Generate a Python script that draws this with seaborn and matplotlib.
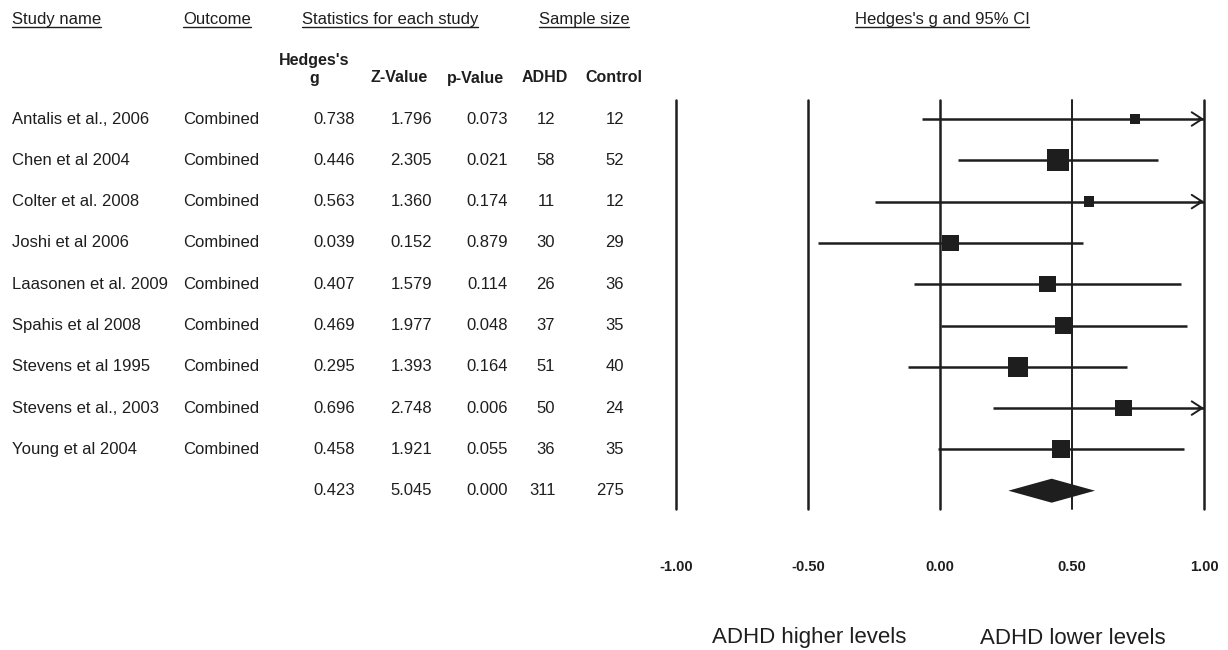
import matplotlib
matplotlib.use("Agg")
import matplotlib.pyplot as plt
import seaborn as sns
import pandas as pd
from matplotlib.lines import Line2D
from matplotlib.transforms import blended_transform_factory, IdentityTransform

# ---------------- data ----------------
studies = ["Antalis et al., 2006", "Chen et al 2004", "Colter et al. 2008",
           "Joshi et al 2006", "Laasonen et al. 2009", "Spahis et al 2008",
           "Stevens et al 1995", "Stevens et al., 2003", "Young et al 2004"]
outcome = ["Combined"] * 9
hedges_g = [0.738, 0.446, 0.563, 0.039, 0.407, 0.469, 0.295, 0.696, 0.458]
z_value = [1.796, 2.305, 1.360, 0.152, 1.579, 1.977, 1.393, 2.748, 1.921]
p_value = [0.073, 0.021, 0.174, 0.879, 0.114, 0.048, 0.164, 0.006, 0.055]
n_adhd = [12, 58, 11, 30, 26, 37, 51, 50, 36]
n_control = [12, 52, 12, 29, 36, 35, 40, 24, 35]
ci_lower = [-0.067, 0.067, -0.248, -0.464, -0.098, 0.004, -0.120, 0.200, -0.009]
ci_upper = [1.543, 0.825, 1.374, 0.542, 0.912, 0.934, 0.710, 1.192, 0.925]
rel_weight = [4.2, 18.8, 4.1, 10.7, 10.6, 12.5, 15.7, 11.0, 12.4]

summary_g = 0.423
summary_z = 5.045
summary_p = 0.000
summary_adhd = 311
summary_control = 275
summary_lower = 0.259
summary_upper = 0.587

x_ticks = [-1.0, -0.5, 0.0, 0.5, 1.0]
x_tick_labels = ["-1.00", "-0.50", "0.00", "0.50", "1.00"]
left_label = "ADHD higher levels"
right_label = "ADHD lower levels"

# ---------------- figure ----------------
sns.set_style("white")
plt.rcParams["font.family"] = ["Liberation Sans", "DejaVu Sans"]
W, H = 1228, 650
fig = plt.figure(figsize=(W / 100, H / 100), dpi=100)

row0_px, step_px = 119.0, 41.3
ax_top_px, ax_bot_px = 100.0, 509.0
x_left_px, x_right_px = 676.0, 1204.0
ax = fig.add_axes([x_left_px / W, 1 - ax_bot_px / H,
                   (x_right_px - x_left_px) / W, (ax_bot_px - ax_top_px) / H])
ax.set_xlim(-1, 1)
ax.set_ylim((ax_bot_px - row0_px) / step_px, (ax_top_px - row0_px) / step_px)

ink = "#1e1e1e"
for xv in x_ticks:
    ax.axvline(xv, color=ink, lw=1.8 if xv != 0.5 else 1.4, zorder=1,
               clip_on=False)

df = pd.DataFrame({"study": studies, "g": hedges_g, "lo": ci_lower,
                   "hi": ci_upper, "w": rel_weight})
df["row"] = range(len(df))

# CI lines (clipped at axis limit) and open arrowheads where CI exceeds range
for _, r in df.iterrows():
    hi = min(r["hi"], 1.0)
    ax.hlines(r["row"], r["lo"], hi, color=ink, lw=1.8, zorder=2)
    if r["hi"] > 1.0:
        ax.annotate("", xy=(1.0, r["row"]), xytext=(0.98, r["row"]),
                    arrowprops=dict(arrowstyle="->,head_length=0.42,head_width=0.27",
                                    color=ink, lw=1.4,
                                    mutation_scale=18, shrinkA=0, shrinkB=0),
                    zorder=3, annotation_clip=False)

k = 13.3
sns.scatterplot(data=df, x="g", y="row", size="w",
                sizes=(k * min(rel_weight), k * max(rel_weight)),
                marker="s", color=ink, edgecolor="none", legend=False,
                ax=ax, zorder=4)

# summary diamond
srow = len(studies)
hh = 12 / step_px
ax.fill([summary_lower, summary_g, summary_upper, summary_g],
        [srow, srow - hh, srow, srow + hh], color=ink, lw=0, zorder=4)

ax.set_xticks(x_ticks)
ax.set_xticklabels(x_tick_labels, fontsize=10.5, fontweight="bold", color=ink)
ax.tick_params(axis="x", length=0, pad=37)
ax.set_yticks([])
ax.set_xlabel("")
ax.set_ylabel("")
sns.despine(ax=ax, left=True, bottom=True)

# ---------------- table text ----------------
tr = blended_transform_factory(fig.transFigure, ax.transData)
fs = 12
def fx(px):
    return px / W

for i in range(len(studies)):
    ax.text(fx(12), i, studies[i], transform=tr, ha="left", va="center", fontsize=fs, color=ink)
    ax.text(fx(183), i, outcome[i], transform=tr, ha="left", va="center", fontsize=fs, color=ink)
    ax.text(fx(355), i, f"{hedges_g[i]:.3f}", transform=tr, ha="right", va="center", fontsize=fs, color=ink)
    ax.text(fx(432), i, f"{z_value[i]:.3f}", transform=tr, ha="right", va="center", fontsize=fs, color=ink)
    ax.text(fx(508), i, f"{p_value[i]:.3f}", transform=tr, ha="right", va="center", fontsize=fs, color=ink)
    ax.text(fx(555), i, f"{n_adhd[i]}", transform=tr, ha="right", va="center", fontsize=fs, color=ink)
    ax.text(fx(624), i, f"{n_control[i]}", transform=tr, ha="right", va="center", fontsize=fs, color=ink)

ax.text(fx(355), srow, f"{summary_g:.3f}", transform=tr, ha="right", va="center", fontsize=fs, color=ink)
ax.text(fx(432), srow, f"{summary_z:.3f}", transform=tr, ha="right", va="center", fontsize=fs, color=ink)
ax.text(fx(508), srow, f"{summary_p:.3f}", transform=tr, ha="right", va="center", fontsize=fs, color=ink)
ax.text(fx(556), srow, f"{summary_adhd}", transform=tr, ha="right", va="center", fontsize=fs, color=ink)
ax.text(fx(624), srow, f"{summary_control}", transform=tr, ha="right", va="center", fontsize=fs, color=ink)

# headers
def fy(px):
    return 1 - px / H

head_y = 18
headers = [("Study name", 12, "left"), ("Outcome", 183, "left"),
           ("Statistics for each study", 390, "center"),
           ("Sample size", 584, "center"),
           ("Hedges's g and 95% CI", 942, "center")]
head_texts = []
for txt, xp, ha in headers:
    head_texts.append(fig.text(fx(xp), fy(head_y), txt, ha=ha, va="center_baseline",
                               fontsize=fs, color=ink))

sub_y = 78
bold_kw = dict(va="center", fontsize=11.5, fontweight="bold", color=ink)
fig.text(fx(314), fy(61), "Hedges's", ha="center", **bold_kw)
fig.text(fx(314), fy(sub_y), "g", ha="center", **bold_kw)
fig.text(fx(399), fy(sub_y), "Z-Value", ha="center", **bold_kw)
fig.text(fx(475), fy(sub_y), "p-Value", ha="center", **bold_kw)
fig.text(fx(545), fy(sub_y), "ADHD", ha="center", **bold_kw)
fig.text(fx(614), fy(sub_y), "Control", ha="center", **bold_kw)

fig.text(fx(712), fy(638), left_label, ha="left", va="center", fontsize=16, color=ink)
fig.text(fx(980), fy(638), right_label, ha="left", va="center", fontsize=16, color=ink)

# underline headers at a common height
fig.canvas.draw()
renderer = fig.canvas.get_renderer()
ul_y = H - 26.5
for t in head_texts:
    bb = t.get_window_extent(renderer)
    fig.add_artist(Line2D([bb.x0, bb.x1], [ul_y, ul_y],
                          transform=IdentityTransform(), color=ink, lw=1.0))

fig.savefig("out.png", dpi=100, facecolor="white")
